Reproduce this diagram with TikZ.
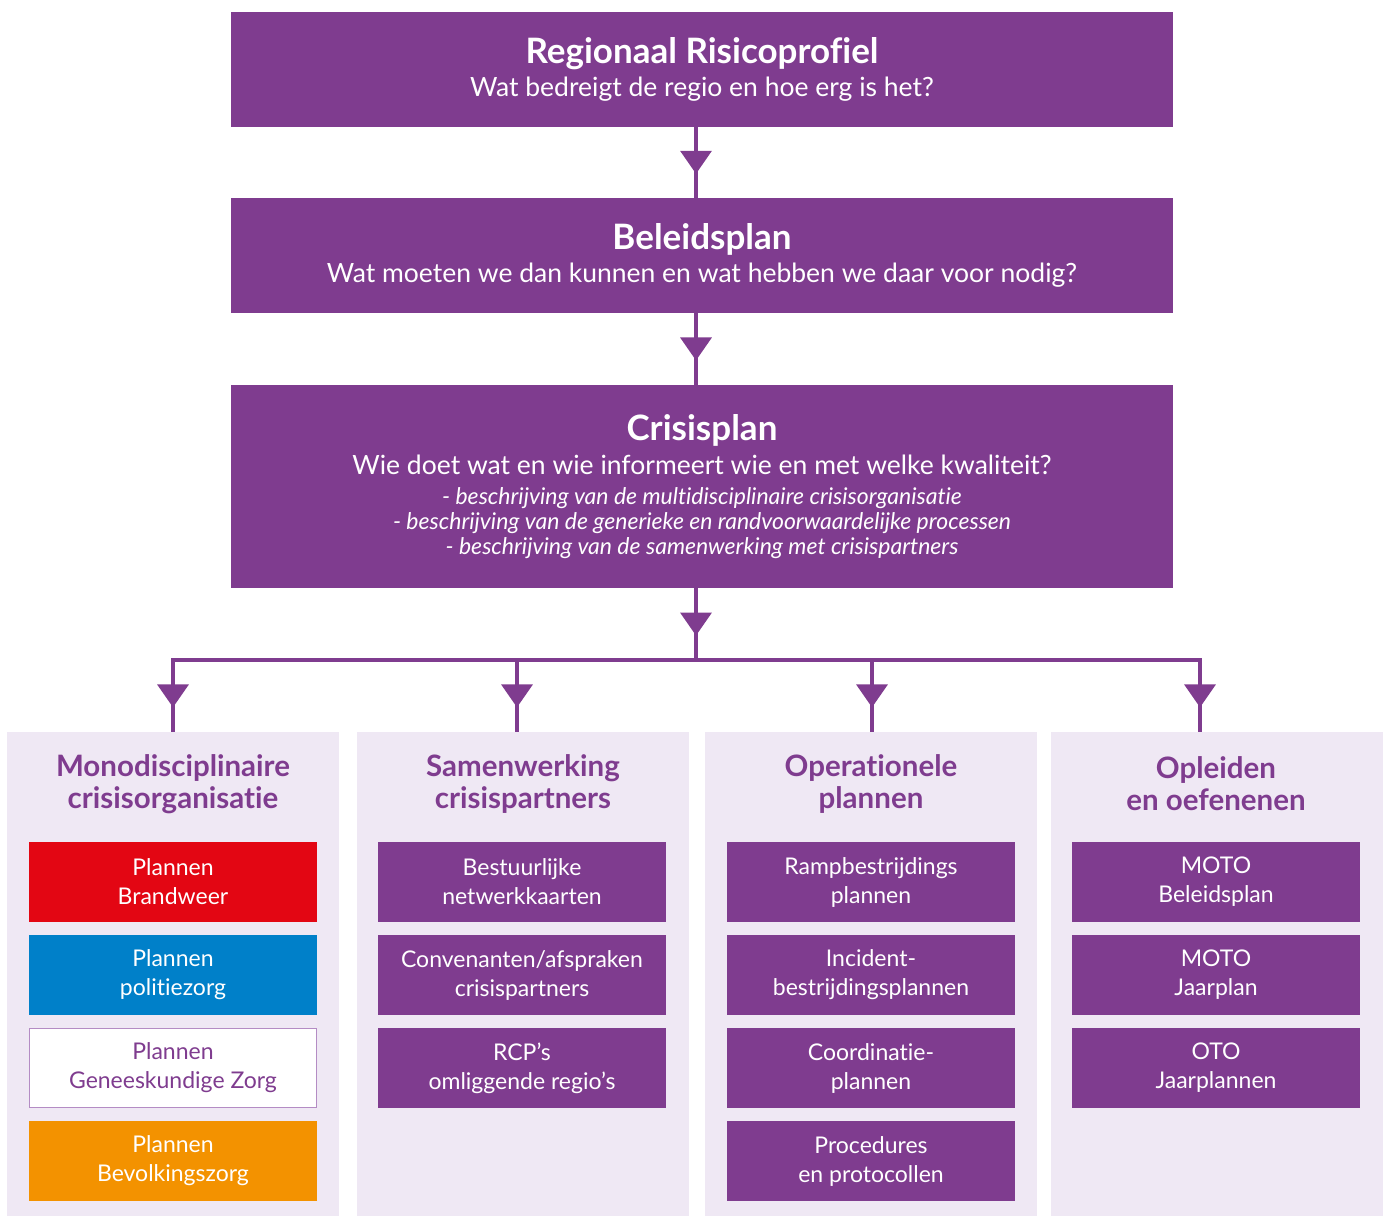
\documentclass[tikz,border=0pt]{standalone}
\usepackage{fontspec}
\setmainfont{Lato}[Ligatures=NoCommon]
\usetikzlibrary{decorations.markings,arrows.meta}
\definecolor{pur}{HTML}{7F3C8F}
\definecolor{lav}{HTML}{EFE8F4}
\definecolor{fred}{HTML}{E30613}
\definecolor{fblue}{HTML}{0080C9}
\definecolor{forange}{HTML}{F39200}
\definecolor{lborder}{HTML}{B48CC4}
\begin{document}
\begin{tikzpicture}[x=1pt,y=-1pt,
  mainbox/.style={fill=pur, draw=none, minimum width=942pt, inner sep=0pt, text=white, align=center},
  ttl/.style={font=\fontsize{35}{33}\selectfont},
  panel/.style={fill=lav, draw=none, minimum width=332pt, minimum height=484pt, inner sep=0pt},
  head/.style={text=pur, align=center, font=\fontsize{29.5}{32}\selectfont\bfseries},
  item/.style={minimum width=288pt, minimum height=80pt, inner sep=0pt, align=center, text=white, fill=pur,
    font=\fontsize{23}{29}\selectfont},
  conn/.style={draw=pur, line width=3.5pt,
    postaction={decorate, decoration={markings, mark=at position 0.66 with {\arrow[pur]{Triangle[width=31pt,length=23pt]}}}}},
  hline/.style={draw=pur, line width=3.5pt}
]
\useasboundingbox (0,0) rectangle (1387,1216);

% main boxes
\node[mainbox, ttl, minimum height=115pt] (rrp) at (702,69.5)
  {{\bfseries Regionaal Risicoprofiel}\\
   {\fontsize{26.5}{30}\selectfont Wat bedreigt de regio en hoe erg is het?}};
\node[mainbox, ttl, minimum height=115pt] (bp) at (702,255.5)
  {{\bfseries Beleidsplan}\\
   {\fontsize{26.5}{30}\selectfont Wat moeten we dan kunnen en wat hebben we daar voor nodig?}};
\node[mainbox, font=\fontsize{23}{25}\selectfont, minimum height=203pt] (cp) at (702,486.5)
  {{\fontsize{35}{33}\selectfont\bfseries Crisisplan}\\[7pt]
   {\fontsize{26.5}{30}\selectfont Wie doet wat en wie informeert wie en met welke kwaliteit?}\\[5pt]
   {\itshape - beschrijving van de multidisciplinaire crisisorganisatie}\\
   {\itshape - beschrijving van de generieke en randvoorwaardelijke processen}\\
   {\itshape - beschrijving van de samenwerking met crisispartners}};

% panels
\node[panel] (p1) at (173,974) {};
\node[panel] (p2) at (523,974) {};
\node[panel] (p3) at (871,974) {};
\node[panel] (p4) at (1217,974) {};

\node[head] (h1) at (173,784) {Monodisciplinaire\\crisisorganisatie};
\node[head] (h2) at (523,784) {Samenwerking\\crisispartners};
\node[head] (h3) at (871,784) {Operationele\\plannen};
\node[head] (h4) at (1216,784) {Opleiden\\en oefenenen};

% items column 1
\node[item, fill=fred] (a1) at (173,882) {Plannen\\Brandweer};
\node[item, fill=fblue] (a2) at (173,975) {Plannen\\politiezorg};
\node[item, fill=white, draw=lborder, line width=1.2pt, text=pur, minimum width=287pt, minimum height=79pt] (a3) at (173,1068) {Plannen\\Geneeskundige Zorg};
\node[item, fill=forange] (a4) at (173,1161) {Plannen\\Bevolkingszorg};
% column 2
\node[item] (b1) at (522,882) {Bestuurlijke\\netwerkkaarten};
\node[item] (b2) at (522,975) {Convenanten/afspraken\\crisispartners};
\node[item] (b3) at (522,1068) {RCP’s\\omliggende regio’s};
% column 3
\node[item] (c1) at (871,882) {Rampbestrijdings\\plannen};
\node[item] (c2) at (871,975) {Incident-\\bestrijdingsplannen};
\node[item] (c3) at (871,1068) {Coordinatie-\\plannen};
\node[item] (c4) at (871,1161) {Procedures\\en protocollen};
% column 4
\node[item] (d1i) at (1216,882) {MOTO\\Beleidsplan};
\node[item] (d2i) at (1216,975) {MOTO\\Jaarplan};
\node[item] (d3i) at (1216,1068) {OTO\\Jaarplannen};

% connectors
\coordinate (j) at (696,660);
\coordinate (d1) at (173,660);
\coordinate (d2) at (517,660);
\coordinate (d3) at (872,660);
\coordinate (d4) at (1200,660);
\path[conn] (rrp.south -| j) -- (bp.north -| j);
\path[conn] (bp.south -| j) -- (cp.north -| j);
\path[conn] (cp.south -| j) -- (j);
\path[hline] ([xshift=-1.75pt]d1) -- ([xshift=1.75pt]d4);
\path[conn] (d1) -- (d1 |- p1.north);
\path[conn] (d2) -- (d2 |- p2.north);
\path[conn] (d3) -- (d3 |- p3.north);
\path[conn] (d4) -- (d4 |- p4.north);
\end{tikzpicture}
\end{document}
